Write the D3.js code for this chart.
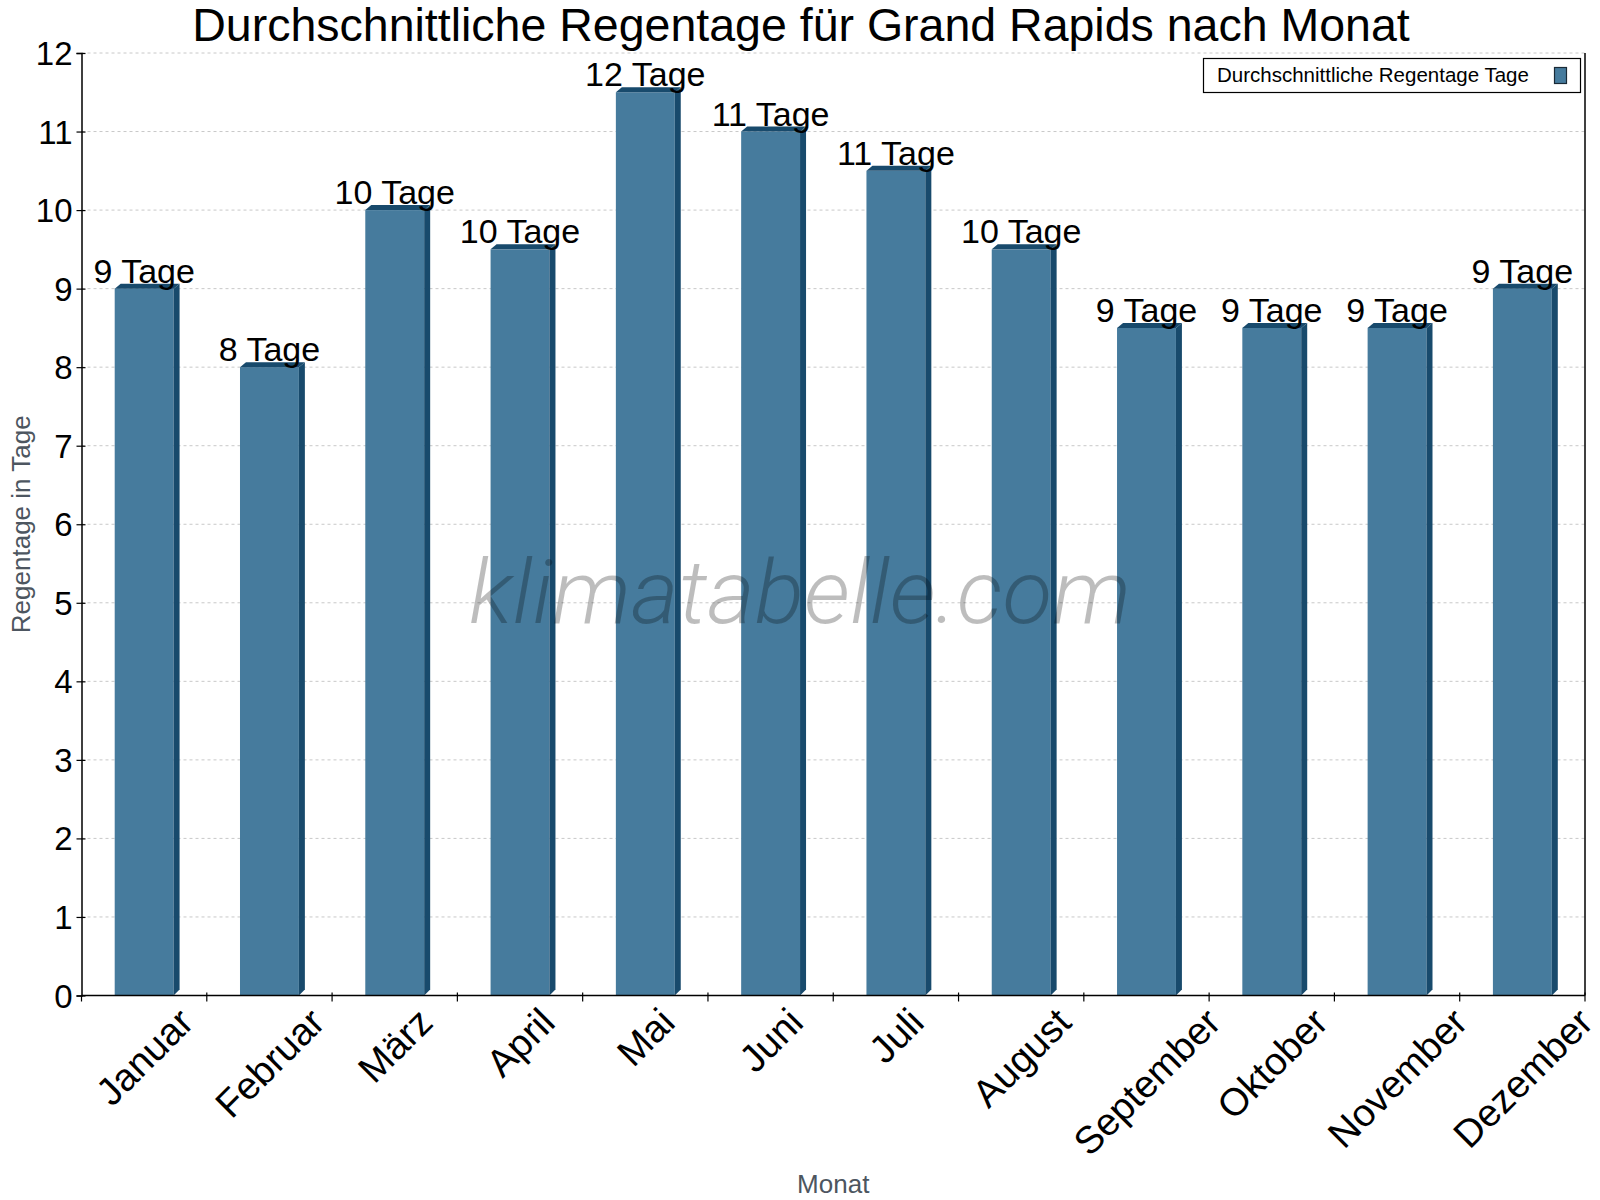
<!DOCTYPE html>
<html>
<head>
<meta charset="utf-8">
<script src="https://cdn.jsdelivr.net/npm/d3@7"></script>
<style>
  body { margin: 0; background: #fff; }
  text { font-family: "Liberation Sans", Arial, sans-serif; }
</style>
</head>
<body>
<svg id="chart" width="1600" height="1200" viewBox="0 0 1600 1200"></svg>
<script>
const months = ["Januar", "Februar", "März", "April", "Mai", "Juni", "Juli",
    "August", "September", "Oktober", "November", "Dezember"];
const rainDays = [9, 8, 10, 9.5, 11.5, 11, 10.5, 9.5, 8.5, 8.5, 8.5, 9];
const yTicks = [0, 1, 2, 3, 4, 5, 6, 7, 8, 9, 10, 11, 12];

const titleText = "Durchschnittliche Regentage für Grand Rapids nach Monat";
const legendText = "Durchschnittliche Regentage Tage";

const svg = d3.select("#chart");
const plotLeft = 81.5, plotRight = 1585, plotTop = 53, plotBottom = 995.5;

const x = d3.scaleBand().domain(months).range([plotLeft, plotRight]).padding(0);
const y = d3.scaleLinear().domain([0, 12]).range([plotBottom, plotTop]);

const barW = x.bandwidth() * 0.47;
const depth = 6;
const frontColor = "#467b9d";
const darkColor = "#184a6c";

// gridlines
svg.append("g")
    .selectAll("line")
    .data(yTicks.filter(d => d > 0))
    .enter()
    .append("line")
    .attr("x1", plotLeft).attr("x2", plotRight)
    .attr("y1", d => y(d)).attr("y2", d => y(d))
    .attr("stroke", "#c8c8c8")
    .attr("stroke-width", 1)
    .attr("stroke-dasharray", "3,3");

// bars (front, top, side)
const bars = svg.append("g")
    .selectAll("g")
    .data(months.map((m, i) => ({ month: m, value: rainDays[i] })))
    .enter()
    .append("g");

bars.append("rect")
    .attr("x", d => x(d.month) + x.bandwidth() / 2 - barW / 2)
    .attr("y", d => y(d.value))
    .attr("width", barW)
    .attr("height", d => plotBottom - y(d.value))
    .attr("fill", frontColor);

bars.append("path")
    .attr("fill", darkColor)
    .attr("d", d => {
        const x0 = x(d.month) + x.bandwidth() / 2 - barW / 2;
        const x1 = x0 + barW;
        const t = y(d.value);
        return `M${x0},${t}L${x0 + depth},${t - depth + 1}L${x1 + depth},${t - depth + 1}L${x1},${t}Z`;
    });

bars.append("path")
    .attr("fill", darkColor)
    .attr("d", d => {
        const x1 = x(d.month) + x.bandwidth() / 2 + barW / 2;
        const t = y(d.value);
        return `M${x1},${t}L${x1 + depth},${t - depth + 1}L${x1 + depth},${plotBottom - depth}L${x1},${plotBottom}Z`;
    });

// value labels
bars.append("text")
    .attr("x", d => x(d.month) + x.bandwidth() / 2)
    .attr("y", d => y(d.value) - 6)
    .attr("text-anchor", "middle")
    .attr("font-size", 34)
    .attr("fill", "#000")
    .text(d => `${Math.round(d.value + 0.001)} Tage`);

// watermark
svg.append("text")
    .attr("x", 800)
    .attr("y", 623)
    .attr("text-anchor", "middle")
    .attr("font-size", 88)
    .attr("font-style", "italic")
    .attr("font-weight", 300)
    .style("font-family", "Roboto, sans-serif")
    .attr("fill", "#000")
    .attr("fill-opacity", 0.26)
    .attr("textLength", 662)
    .attr("lengthAdjust", "spacingAndGlyphs")
    .text("klimatabelle.com");

// y axis
const yAxis = svg.append("g")
    .attr("transform", `translate(${plotLeft},0)`)
    .call(d3.axisLeft(y).tickValues(yTicks).tickSize(5).tickPadding(4).tickFormat(d3.format("d")));
yAxis.select(".domain").attr("stroke", "#000").attr("stroke-width", 1.5);
yAxis.selectAll(".tick line").attr("x2", 4).attr("x1", -5).attr("stroke", "#000").attr("stroke-width", 1.2);
yAxis.selectAll(".tick text")
    .attr("font-size", 33)
    .attr("fill", "#000")
    .style("font-family", "'Liberation Sans', Arial, sans-serif")
    .attr("dy", "0.35em")
    .attr("x", -9);

// right border
svg.append("line")
    .attr("x1", plotRight).attr("x2", plotRight)
    .attr("y1", plotTop).attr("y2", plotBottom)
    .attr("stroke", "#000").attr("stroke-width", 1.5);

// x axis
const xAxis = svg.append("g")
    .attr("transform", `translate(0,${plotBottom})`);
xAxis.append("line")
    .attr("x1", plotLeft).attr("x2", plotRight)
    .attr("stroke", "#000").attr("stroke-width", 1.5);
xAxis.selectAll(".xtick")
    .data(months.slice(1).map(m => x(m)).concat([plotRight]))
    .enter()
    .append("line")
    .attr("x1", d => d).attr("x2", d => d)
    .attr("y1", -3).attr("y2", 6)
    .attr("stroke", "#000").attr("stroke-width", 1.2);
xAxis.append("line")
    .attr("x1", plotLeft).attr("x2", plotLeft)
    .attr("y1", 0).attr("y2", 6)
    .attr("stroke", "#000").attr("stroke-width", 1.2);

// rotated month labels, centred on band, top of rotated box aligned
const labelSize = 38.5;
const labelTop = 1005;
const monthLabels = svg.append("g")
    .selectAll("text")
    .data(months)
    .enter()
    .append("text")
    .attr("font-size", labelSize)
    .attr("text-anchor", "middle")
    .attr("fill", "#000")
    .text(d => d);
monthLabels.each(function (d) {
    const w = this.getComputedTextLength();
    const h = labelSize * 0.72;
    const ext = (w + h) * Math.SQRT1_2;
    const cx = x(d) + x.bandwidth() / 2;
    const cy = labelTop + ext / 2;
    d3.select(this)
        .attr("x", 0)
        .attr("y", h / 2)
        .attr("transform", `translate(${cx},${cy}) rotate(-45)`);
});

// axis titles
svg.append("text")
    .attr("transform", `translate(30,${(plotTop + plotBottom) / 2}) rotate(-90)`)
    .attr("text-anchor", "middle")
    .attr("font-size", 26)
    .attr("fill", "#4d5660")
    .text("Regentage in Tage");

svg.append("text")
    .attr("x", (plotLeft + plotRight) / 2)
    .attr("y", 1193)
    .attr("text-anchor", "middle")
    .attr("font-size", 26)
    .attr("fill", "#4d5660")
    .text("Monat");

// title
svg.append("text")
    .attr("x", 801)
    .attr("y", 41)
    .attr("text-anchor", "middle")
    .attr("font-size", 46.5)
    .attr("fill", "#000")
    .text(titleText);

// legend
const legend = svg.append("g");
legend.append("rect")
    .attr("x", 1203.5).attr("y", 58.5)
    .attr("width", 377).attr("height", 34)
    .attr("fill", "#fff")
    .attr("stroke", "#000").attr("stroke-width", 1.2);
legend.append("text")
    .attr("x", 1217).attr("y", 82)
    .attr("font-size", 20.5)
    .attr("fill", "#000")
    .text(legendText);
legend.append("rect")
    .attr("x", 1554.5).attr("y", 67.5)
    .attr("width", 12).attr("height", 16)
    .attr("fill", frontColor)
    .attr("stroke", "#1a2a36").attr("stroke-width", 1.2);
</script>
</body>
</html>
